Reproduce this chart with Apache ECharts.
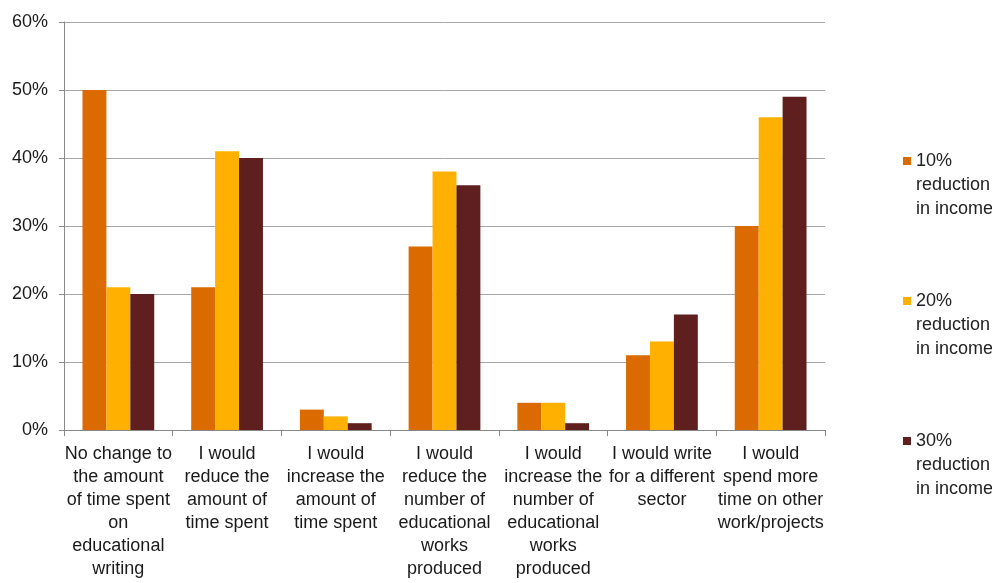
<!DOCTYPE html>
<html><head><meta charset="utf-8">
<script src="https://cdn.jsdelivr.net/npm/echarts@6/dist/echarts.min.js"></script>
<style>html,body{margin:0;padding:0;background:#fff}#c{width:992px;height:583px}</style>
</head><body><div id="c"></div>
<script>
const categories = [
  "No change to\nthe amount\nof time spent\non\neducational\nwriting",
  "I would\nreduce the\namount of\ntime spent",
  "I would\nincrease the\namount of\ntime spent",
  "I would\nreduce the\nnumber of\neducational\nworks\nproduced",
  "I would\nincrease the\nnumber of\neducational\nworks\nproduced",
  "I would write\nfor a different\nsector",
  "I would\nspend more\ntime on other\nwork/projects"
];
const seriesNames = ["10%\nreduction\nin income", "20%\nreduction\nin income", "30%\nreduction\nin income"];
const s10 = [50, 21, 3, 27, 4, 11, 30];
const s20 = [21, 41, 2, 38, 4, 13, 46];
const s30 = [20, 40, 1, 36, 1, 17, 49];
const yTicks = [0, 10, 20, 30, 40, 50, 60];
const colors = ["#DB6A00", "#FFB000", "#5E1F1E"];

const font = "Liberation Sans, Arial, sans-serif";
const chart = echarts.init(document.getElementById('c'), null, {renderer: 'canvas'});
const legendTops = [96, 236, 376];
chart.setOption({
  animation: false,
  color: colors,
  grid: {left: 64, right: 167, top: 22, bottom: 153},
  legend: seriesNames.map((n, i) => ({
    data: [n], orient: 'vertical', left: 898, top: legendTops[i],
    itemWidth: 8, itemHeight: 8, icon: 'rect', selectedMode: false,
    formatter: name => '\n\n' + name,
    textStyle: {fontFamily: font, fontSize: 18, color: '#222', lineHeight: 24},
    itemGap: 5
  })),
  xAxis: {
    type: 'category', data: categories,
    axisLine: {lineStyle: {color: '#888'}},
    axisTick: {show: true, length: 6, lineStyle: {color: '#888'}},
    axisLabel: {interval: 0, fontFamily: font, fontSize: 18, color: '#1a1a1a', lineHeight: 23, margin: 13}
  },
  yAxis: {
    type: 'value', min: yTicks[0], max: yTicks[yTicks.length - 1], interval: 10,
    axisLine: {show: true, lineStyle: {color: '#888'}},
    axisTick: {show: true, length: 5, lineStyle: {color: '#888'}},
    splitLine: {lineStyle: {color: '#A6A6A6'}},
    axisLabel: {formatter: '{value}%', fontFamily: font, fontSize: 18, color: '#1a1a1a', margin: 16}
  },
  series: [s10, s20, s30].map((d, i) => ({
    type: 'bar', name: seriesNames[i], data: d,
    barGap: '0%', barCategoryGap: '34%'
  }))
});
</script></body></html>
